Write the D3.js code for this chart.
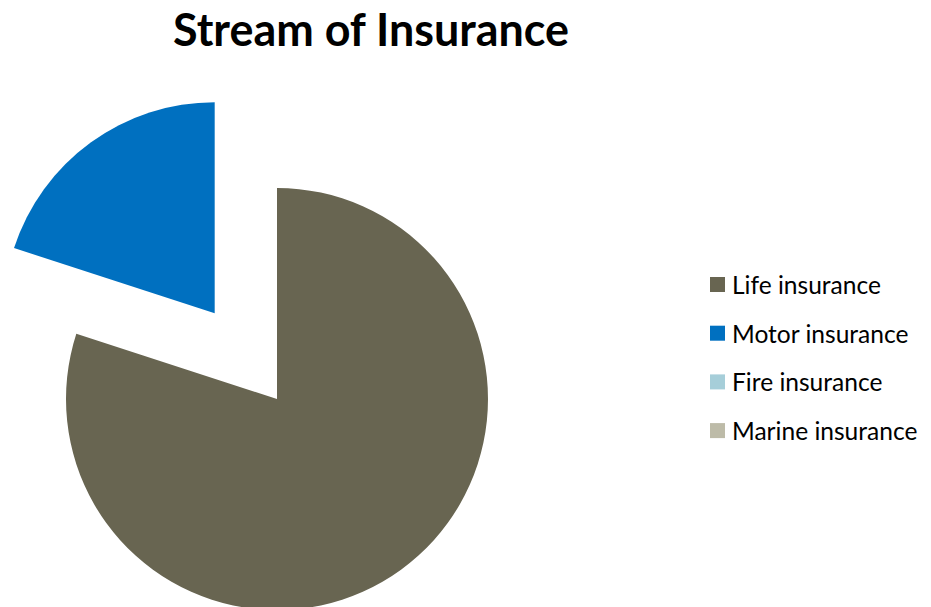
<!DOCTYPE html>
<html>
<head>
<meta charset="utf-8">
<script src="https://cdn.jsdelivr.net/npm/d3@7"></script>
<style>
  html, body { margin: 0; padding: 0; background: #fff; }
  svg { display: block; }
  text { font-family: Lato, "Open Sans", sans-serif; fill: #000; }
</style>
</head>
<body>
<svg id="chart" width="931" height="607"></svg>
<script>
// Insurance streams and their shares
const categories = ["Life insurance", "Motor insurance", "Fire insurance", "Marine insurance"];
const shares = [80, 20, 0, 0];
const colors = ["#686551", "#0070C0", "#A6CED9", "#BDBBA8"];
const explodedSlice = "Motor insurance";
const chartTitle = "Stream of Insurance";

const svg = d3.select("#chart");

const cx = 277, cy = 399, radius = 211, explodeDist = 106;

const color = d3.scaleOrdinal().domain(categories).range(colors);

const pie = d3.pie().sort(null).value(d => d.value);
const arc = d3.arc().innerRadius(0).outerRadius(radius);

const data = categories.map((c, i) => ({ name: c, value: shares[i] }));
const arcs = pie(data);

const g = svg.append("g").attr("transform", `translate(${cx},${cy})`);

g.selectAll("path")
  .data(arcs.filter(d => d.data.value > 0))
  .join("path")
  .attr("d", arc)
  .attr("fill", d => color(d.data.name))
  .attr("transform", d => {
    if (d.data.name !== explodedSlice) return null;
    const mid = (d.startAngle + d.endAngle) / 2;
    return `translate(${Math.sin(mid) * explodeDist},${-Math.cos(mid) * explodeDist})`;
  });

// Title, sized to its measured width
const title = svg.append("text")
  .attr("x", 371)
  .attr("y", 46)
  .attr("text-anchor", "middle")
  .style("font-weight", "bold")
  .style("font-size", "100px")
  .text(chartTitle);
const tw = title.node().getComputedTextLength();
title.style("font-size", (100 * 396 / tw) + "px");

// Legend
const legend = svg.append("g").attr("transform", "translate(710,277)");
const rowH = 48.7;
const items = legend.selectAll("g")
  .data(categories)
  .join("g")
  .attr("transform", (d, i) => `translate(0,${i * rowH})`);

items.append("rect")
  .attr("width", 15)
  .attr("height", 15)
  .attr("fill", d => color(d));

const labels = items.append("text")
  .attr("x", 22)
  .attr("y", 17)
  .style("font-size", "100px")
  .text(d => d);
const lw = labels.nodes()[0].getComputedTextLength();
labels.style("font-size", (100 * 149 / lw) + "px");
</script>
</body>
</html>
